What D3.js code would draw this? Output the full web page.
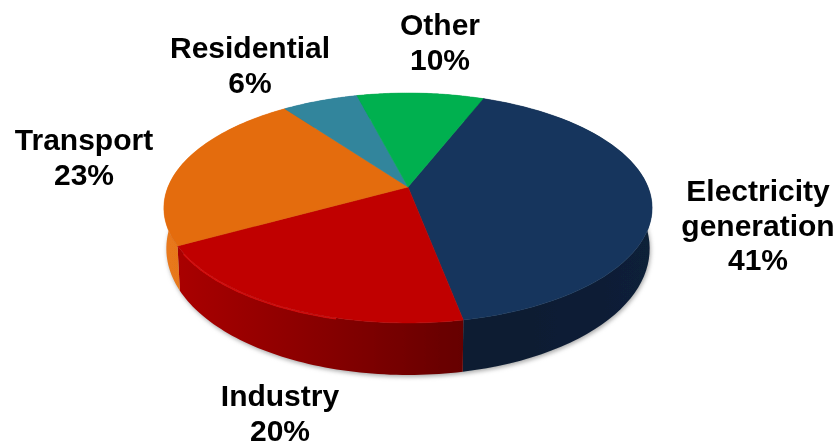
<!DOCTYPE html>
<html lang="en">
<head>
<meta charset="utf-8">
<title>Emissions by sector</title>
<style>
	html, body { margin: 0; padding: 0; background: #fff; }
	svg { display: block; }
	text { font: bold 30px "Liberation Sans", Arial, sans-serif; fill: #000; text-anchor: middle; }
</style>
</head>
<body>
<svg id="chart" width="838" height="445"></svg>
<script src="https://d3js.org/d3.v7.min.js"></script>
<script>
// clockwise from the blue slice
var categories = ["Electricity generation", "Industry", "Transport", "Residential", "Other"];
var shares = [41, 20, 23, 6, 10];
var topColors = ["#17365d", "#c00000", "#e46c0a", "#31859c", "#00b050"];
var sideDark = ["#0a1a30", "#640000", "#b85608", "#215a6a", "#007a38"];
var sideLight = ["#0f2340", "#ab0000", "#e8781a", "#31859c", "#00b050"];

var width = 838, height = 445;
var cx = 408, d = 240;
var startAngle = 21.5 * Math.PI / 180;

var svg = d3.select("#chart");
var defs = svg.append("defs");

defs.append("filter").attr("id", "soft")
	.attr("x", "-5%").attr("y", "-5%").attr("width", "110%").attr("height", "110%")
	.append("feGaussianBlur").attr("stdDeviation", 0.7);
defs.append("filter").attr("id", "shadow")
	.attr("x", "-10%").attr("y", "-10%").attr("width", "120%").attr("height", "120%")
	.append("feGaussianBlur").attr("stdDeviation", 2);
defs.append("filter").attr("id", "textSoft")
	.append("feGaussianBlur").attr("stdDeviation", 0.35);

// perspective: pie circle onto the slanted top face
function topPoint(a) {
	var u = Math.sin(a), v = -Math.cos(a), w = 1 - 0.1826 * v;
	return [cx + d * u / w, (187 + 77 * v) / w];
}
// the base rim sits lower, more so at the front
function basePoint(a) {
	var p = topPoint(a), v = -Math.cos(a);
	return [cx + (p[0] - cx) * 0.99, p[1] + 38 + 14 * v];
}
function arcAngles(s) {
	return d3.range(0, 61).map(function(i) { return s.startAngle + (s.endAngle - s.startAngle) * i / 60; });
}

var pie = d3.pie().sort(null).startAngle(startAngle).endAngle(startAngle + 2 * Math.PI);
var slices = pie(shares);
var line = d3.line();

// drop shadow under the base
svg.append("path")
	.attr("d", line(d3.range(0, 121).map(function(i) {
		var p = basePoint(i / 120 * 2 * Math.PI);
		return [p[0] + 1, p[1] + 2];
	})) + "Z")
	.attr("fill", "#aaa")
	.attr("filter", "url(#shadow)");

var pieGroup = svg.append("g").attr("filter", "url(#soft)");

// side walls, gradient per slice
slices.forEach(function(s, i) {
	var id = "side" + i;
	var g = defs.append("linearGradient").attr("id", id)
		.attr("gradientUnits", "userSpaceOnUse")
		.attr("x1", 170).attr("x2", 470).attr("y1", 0).attr("y2", 0);
	g.append("stop").attr("offset", 0).attr("stop-color", sideLight[i]);
	g.append("stop").attr("offset", 1).attr("stop-color", sideDark[i]);
	if (i === 0) {
		g.attr("x1", 465).attr("x2", 650);
		g.selectAll("stop").remove();
		g.append("stop").attr("offset", 0).attr("stop-color", "#0a1a30");
		g.append("stop").attr("offset", 1).attr("stop-color", "#0d2038");
	}
	var angles = arcAngles(s);
	var pts = angles.map(topPoint).concat(angles.slice().reverse().map(basePoint));
	pieGroup.append("path")
		.attr("d", line(pts) + "Z")
		.attr("fill", "url(#" + id + ")");
});

// top faces
slices.forEach(function(s, i) {
	var pts = [[cx, 187]].concat(arcAngles(s).map(topPoint));
	pieGroup.append("path")
		.attr("d", line(pts) + "Z")
		.attr("fill", topColors[i])
		.attr("stroke", topColors[i])
		.attr("stroke-width", 0.5);
});

// thin highlight along the front edge of the red slice
var red = slices[1];
pieGroup.append("path")
	.attr("d", line(d3.range(0, 41).map(function(i) {
		var a = red.startAngle + (red.endAngle - red.startAngle) * (0.35 + 0.6 * (1 - i / 40));
		var p = topPoint(a);
		return [p[0], p[1] + 1];
	})))
	.attr("fill", "none")
	.attr("stroke", "#e01010")
	.attr("stroke-width", 1.5)
	.attr("opacity", 0.8);

// labels
var labelLines = [
	["Electricity", "generation", "41%"],
	["Industry", "20%"],
	["Transport", "23%"],
	["Residential", "6%"],
	["Other", "10%"]
];
var labelAnchor = [[758, 201], [280, 406], [84, 150], [250, 58], [440, 35]];
var lineStep = 34.5;

labelLines.forEach(function(lines, i) {
	var t = svg.append("text")
		.attr("x", labelAnchor[i][0])
		.attr("y", labelAnchor[i][1])
		.attr("filter", "url(#textSoft)");
	t.selectAll("tspan").data(lines).enter().append("tspan")
		.attr("x", labelAnchor[i][0])
		.attr("dy", function(l, k) { return k ? lineStep : 0; })
		.text(function(l) { return l; });
});
</script>
</body>
</html>
